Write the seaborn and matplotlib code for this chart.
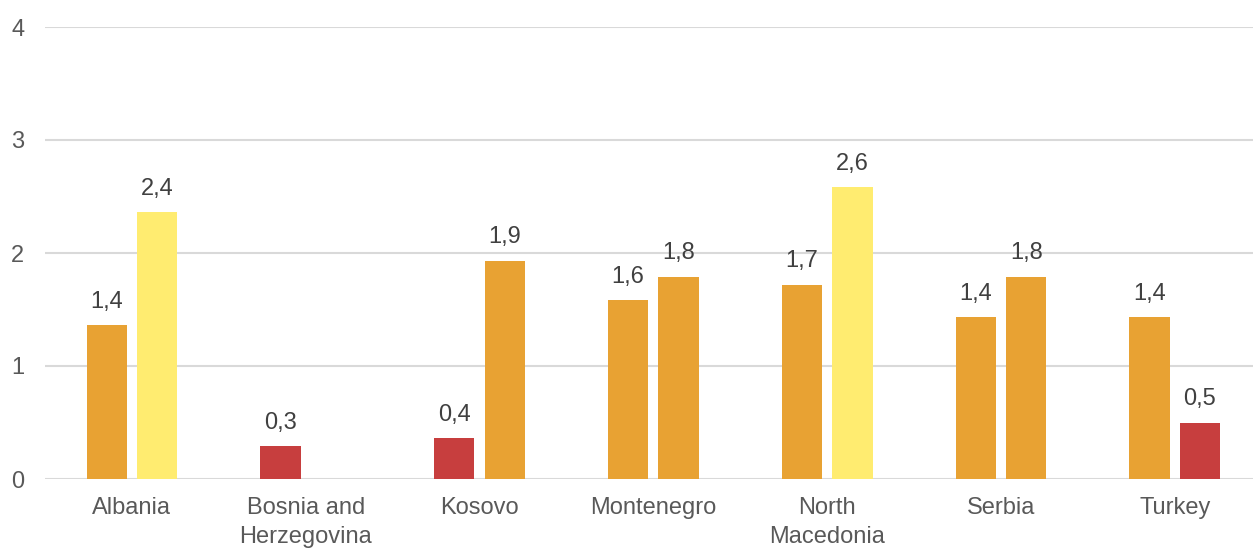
import pandas as pd
import seaborn as sns
import matplotlib.pyplot as plt

countries = ["Albania", "Bosnia and\nHerzegovina", "Kosovo", "Montenegro",
             "North\nMacedonia", "Serbia", "Turkey"]
first_vals = [1.36, 0.29, 0.36, 1.58, 1.72, 1.43, 1.43]
second_vals = [2.36, None, 1.93, 1.79, 2.58, 1.79, 0.50]
first_level = ["mid", "low", "low", "mid", "mid", "mid", "mid"]
second_level = ["high", None, "mid", "mid", "high", "mid", "low"]
level_colors = {"low": "#C73E3E", "mid": "#E8A233", "high": "#FFEC70"}

rows = []
for c, v, l in zip(countries, first_vals, first_level):
    rows.append({"country": c, "series": "A", "value": v, "level": l})
for c, v, l in zip(countries, second_vals, second_level):
    rows.append({"country": c, "series": "B", "value": v, "level": l})
df = pd.DataFrame(rows).dropna().reset_index(drop=True)

sns.set_style("white")
plt.rcParams["font.family"] = ["Liberation Sans", "DejaVu Sans"]

fig = plt.figure(figsize=(12.53, 5.48), dpi=100)
ax = fig.add_axes([45 / 1253, (548 - 479) / 548, 1208 / 1253, 452 / 548])

sns.barplot(data=df, x="country", y="value", hue="series", order=countries,
            hue_order=["A", "B"], width=0.58, gap=0.2, legend=False, ax=ax,
            errorbar=None)

# colour each bar by its level; patches follow the (series, country) order of df
for patch, (_, r) in zip(ax.patches, df.iterrows()):
    patch.set_facecolor(level_colors[r["level"]])
    patch.set_edgecolor("none")
    x = patch.get_x() + patch.get_width() / 2
    ax.annotate(f"{r['value']:.1f}".replace(".", ","), (x, patch.get_height()),
                xytext=(0, 9), textcoords="offset points", ha="center",
                va="bottom", fontsize=17, color="#404040")

ax.set_ylim(0, 4)
ax.set_xlim(-0.5, 6.45)
ax.set_yticks([0, 1, 2, 3, 4])
ax.yaxis.grid(True, color="#D9D9D9", linewidth=1.5)
ax.set_axisbelow(True)
for s in ax.spines.values():
    s.set_visible(False)
ax.tick_params(axis="both", length=0, labelsize=17, labelcolor="#595959")
ax.tick_params(axis="y", pad=15)
ax.tick_params(axis="x", pad=13)
for t in ax.get_xticklabels():
    t.set_linespacing(1.4)
ax.set_xlabel("")
ax.set_ylabel("")

fig.savefig("out.png", dpi=100)
